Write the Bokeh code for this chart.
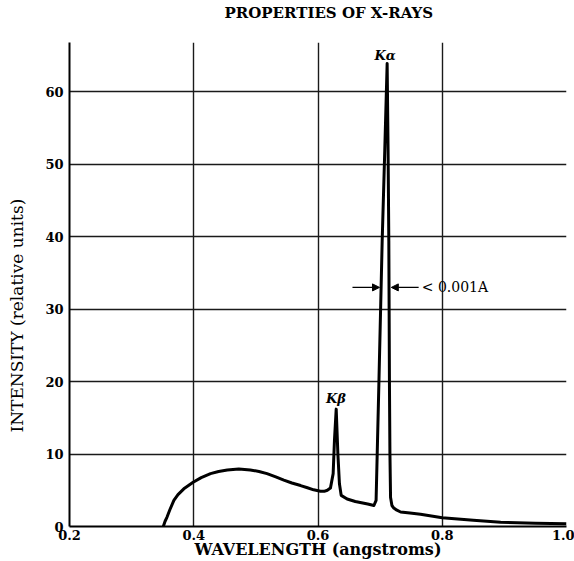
from bokeh.plotting import figure
from bokeh.models import Range1d, FixedTicker, Label, Arrow, NormalHead, Title
from bokeh.embed import file_html
from bokeh.resources import INLINE

# ---- data (wavelength in angstroms, relative intensity) ----
wavelength = [0.351, 0.3537, 0.357, 0.3617, 0.368, 0.3746, 0.384, 0.3915, 0.399, 0.412,
              0.427, 0.44, 0.454, 0.4725, 0.491, 0.505, 0.518, 0.532,
              0.545, 0.558, 0.572, 0.583, 0.593, 0.604, 0.610, 0.615, 0.620, 0.6244, 0.6265,
              0.6293, 0.632, 0.6345, 0.6373, 0.6469, 0.66, 0.68, 0.690, 0.6935, 0.6953,
              0.698, 0.7033, 0.7075, 0.7113, 0.7128, 0.714, 0.715, 0.7158, 0.7168, 0.719,
              0.722, 0.727, 0.733, 0.748, 0.765, 0.80, 0.85, 0.894, 0.95, 1.0]
intensity = [0.0, 0.69, 1.3, 2.35, 3.6, 4.4, 5.2, 5.65, 6.1, 6.75,
             7.3, 7.6, 7.8, 7.95, 7.8, 7.6, 7.3, 6.85,
             6.4, 6.0, 5.65, 5.35, 5.06, 4.87, 4.85, 5.0, 5.3, 7.3, 11.9,
             16.2, 10.0, 5.9, 4.3, 3.8, 3.45, 3.1, 2.9, 3.6, 10.0,
             19.7, 39.4, 52.0, 63.9, 52.0, 39.4, 19.7, 10.0, 4.0, 2.9,
             2.55, 2.25, 2.0, 1.85, 1.7, 1.2, 0.85, 0.6, 0.45, 0.37]

x_ticks = [0.2, 0.4, 0.6, 0.8, 1.0]
y_ticks = [0, 10, 20, 30, 40, 50, 60]
x_tick_labels = {1.0: "1.0"}

title_text = "PROPERTIES OF X-RAYS"
x_label = "WAVELENGTH (angstroms)"
y_label = "INTENSITY (relative units)"

# annotation anchors (data units)
ka_label = ("K\u03b1", 0.708, 65.0)
kb_label = ("K\u03b2", 0.629, 17.7)
width_y = 33.0
left_arrow = (0.6555, 0.699)
right_arrow = (0.762, 0.718)
width_text = ("< 0.001A", 0.767)

SERIF = "DejaVu Serif"

p = figure(width=574, height=561, output_backend="svg", toolbar_location=None,
           x_range=Range1d(0.2, 1.0), y_range=Range1d(0, 66.8),
           min_border_left=69, min_border_right=8, min_border_top=42, min_border_bottom=35,
           title=None)
p.outline_line_color = None
p.background_fill_color = "white"
p.border_fill_color = "white"

# spacer between frame and page header, then the header itself
p.add_layout(Title(text="\u00a0", text_font_size="1px", standoff=18), "above")
p.add_layout(Title(text=title_text, align="left", offset=155, standoff=0,
                   text_font=SERIF, text_font_style="bold", text_font_size="15px",
                   text_color="black"), "above")

# axes
for ax in (p.xaxis[0], p.yaxis[0]):
    ax.axis_line_width = 2
    ax.axis_line_color = "black"
    ax.major_tick_in = 0
    ax.major_tick_out = 0
    ax.minor_tick_in = 0
    ax.minor_tick_out = 0
    ax.major_label_text_font = SERIF
    ax.major_label_text_font_style = "bold"
    ax.major_label_text_font_size = "13px"
    ax.major_label_text_color = "black"

p.xaxis.ticker = FixedTicker(ticks=x_ticks)
p.yaxis.ticker = FixedTicker(ticks=y_ticks)
p.xaxis.major_label_overrides = x_tick_labels
p.xaxis.major_label_standoff = 3
p.yaxis.major_label_standoff = 6

p.xaxis.axis_label = x_label
p.xaxis.axis_label_text_font = SERIF
p.xaxis.axis_label_text_font_style = "bold"
p.xaxis.axis_label_text_font_size = "16px"
p.xaxis.axis_label_standoff = -3
p.xaxis.axis_label_text_color = "black"

# y label as a left-side title (with a spacer) so it sits where the reference has it
p.add_layout(Title(text="\u00a0", text_font_size="1px", standoff=11), "left")
p.add_layout(Title(text=y_label, align="left", offset=94, text_font=SERIF,
                   text_font_style="normal", text_font_size="17px", text_color="black",
                   standoff=4), "left")

# grid
p.xgrid.ticker = FixedTicker(ticks=x_ticks)
p.ygrid.ticker = FixedTicker(ticks=y_ticks)
for g in (p.xgrid[0], p.ygrid[0]):
    g.grid_line_color = "#1a1a1a"
    g.grid_line_width = 1.4
    g.grid_line_alpha = 1.0

# spectrum
p.line(wavelength, intensity, line_color="black", line_width=3, line_join="round")

# labels
p.add_layout(Label(x=ka_label[1], y=ka_label[2], text=ka_label[0], text_font=SERIF,
                   text_font_style="bold italic", text_font_size="13px",
                   text_align="center", text_baseline="middle", text_color="black"))
p.add_layout(Label(x=kb_label[1], y=kb_label[2], text=kb_label[0], text_font=SERIF,
                   text_font_style="bold italic", text_font_size="13px",
                   text_align="center", text_baseline="middle", text_color="black"))

for xs, xe in (left_arrow, right_arrow):
    p.add_layout(Arrow(end=NormalHead(size=7, fill_color="black", line_color="black"),
                       x_start=xs, y_start=width_y, x_end=xe, y_end=width_y,
                       line_color="black", line_width=1.2))

p.add_layout(Label(x=width_text[1], y=width_y, text=width_text[0], text_font=SERIF,
                   text_font_size="14px", text_align="left", text_baseline="middle",
                   text_color="black"))

open("out.html", "w").write(file_html(p, INLINE))
